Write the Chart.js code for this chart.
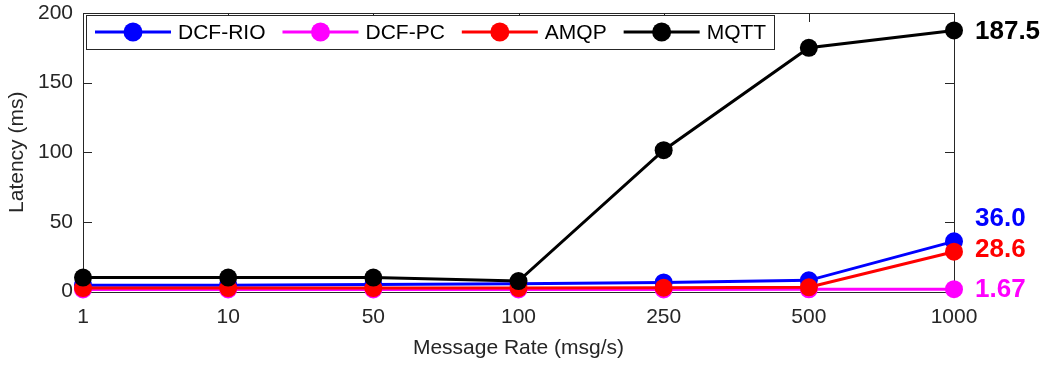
<!DOCTYPE html>
<html lang="en">
<head>
    <meta charset="UTF-8">
    <title>Latency vs Message Rate</title>
    <script src="https://cdn.jsdelivr.net/npm/chart.js"></script>
    <style>
        body { margin: 0; background: #fff; }
    </style>
</head>
<body>
    <canvas id="latencyChart" width="1058" height="365"></canvas>
    <script>
        // data
        const rates = ['1', '10', '50', '100', '250', '500', '1000'];
        const dcfRio = [4.5, 4.5, 5, 5.5, 6.5, 8, 36.0];
        const dcfPc = [1.5, 1.5, 1.5, 1.5, 1.5, 1.6, 1.67];
        const amqp = [2.5, 2.5, 2.5, 2.5, 2.7, 3, 28.6];
        const mqtt = [10, 10, 10, 7.5, 101.5, 175, 187.5];
        const seriesNames = ['DCF-RIO', 'DCF-PC', 'AMQP', 'MQTT'];
        const endLabels = ['36.0', '1.67', '28.6', '187.5'];
        const yTicks = [0, 50, 100, 150, 200];

        const FONT = 'Liberation Sans, Arial, sans-serif';
        const AXIS = '#262626';
        const colors = ['#0000ff', '#ff00ff', '#ff0000', '#000000'];
        const allSeries = [dcfRio, dcfPc, amqp, mqtt];

        // box around the axes with inward ticks (MATLAB style)
        const axesBox = {
            id: 'axesBox',
            beforeDatasetsDraw(chart) {
                const {ctx, chartArea: a, scales: {x, y}} = chart;
                const len = 9;
                ctx.save();
                ctx.strokeStyle = AXIS;
                ctx.lineWidth = 1;
                ctx.beginPath();
                x.ticks.forEach((t, i) => {
                    const px = Math.round(x.getPixelForTick(i)) + 0.5;
                    ctx.moveTo(px, a.bottom); ctx.lineTo(px, a.bottom - len);
                    ctx.moveTo(px, a.top); ctx.lineTo(px, a.top + len);
                });
                y.ticks.forEach((t, i) => {
                    const py = Math.round(y.getPixelForTick(i)) + 0.5;
                    ctx.moveTo(a.left, py); ctx.lineTo(a.left + len, py);
                    ctx.moveTo(a.right, py); ctx.lineTo(a.right - len, py);
                });
                ctx.stroke();
                ctx.strokeRect(Math.round(a.left) + 0.5, Math.round(a.top) + 0.5,
                    Math.round(a.right - a.left), Math.round(a.bottom - a.top));
                ctx.restore();
            }
        };

        // legend inside the axes, top-left, horizontal
        const insideLegend = {
            id: 'insideLegend',
            afterDatasetsDraw(chart) {
                const {ctx, chartArea: a} = chart;
                ctx.save();
                ctx.font = '21px ' + FONT;
                const pad = 9, lineLen = 76, textGap = 7, itemGap = 17;
                let w = pad;
                seriesNames.forEach((n, i) => {
                    w += lineLen + textGap + ctx.measureText(n).width;
                    if (i < seriesNames.length - 1) w += itemGap;
                });
                w += pad - 1;
                const bx = a.left + 3, by = a.top + 2, bh = 34;
                ctx.fillStyle = '#fff';
                ctx.fillRect(bx, by, w, bh);
                ctx.strokeStyle = '#262626';
                ctx.lineWidth = 1;
                ctx.strokeRect(Math.round(bx) + 0.5, Math.round(by) + 0.5, Math.round(w), bh);
                let cx = bx + pad;
                const cy = by + bh / 2;
                seriesNames.forEach((n, i) => {
                    ctx.strokeStyle = colors[i];
                    ctx.lineWidth = 3;
                    ctx.beginPath();
                    ctx.moveTo(cx, cy); ctx.lineTo(cx + lineLen, cy);
                    ctx.stroke();
                    ctx.fillStyle = colors[i];
                    ctx.beginPath();
                    ctx.arc(cx + lineLen / 2, cy, 9.5, 0, Math.PI * 2);
                    ctx.fill();
                    ctx.fillStyle = '#000';
                    ctx.textBaseline = 'middle';
                    ctx.textAlign = 'left';
                    const tx = cx + lineLen + textGap;
                    ctx.fillText(n, tx, cy + 1);
                    cx = tx + ctx.measureText(n).width + itemGap;
                });
                ctx.restore();
            }
        };

        // bold value labels to the right of the last points
        const endValueLabels = {
            id: 'endValueLabels',
            afterDatasetsDraw(chart) {
                const {ctx, chartArea: a, scales: {y}} = chart;
                const shift = [-24, 0, -3, 0];
                ctx.save();
                ctx.font = 'bold 26px ' + FONT;
                ctx.textAlign = 'left';
                ctx.textBaseline = 'middle';
                allSeries.forEach((s, i) => {
                    ctx.fillStyle = colors[i];
                    const py = y.getPixelForValue(s[s.length - 1]) + shift[i];
                    ctx.fillText(endLabels[i], a.right + 21, py + 1);
                });
                ctx.restore();
            }
        };

        const datasets = allSeries.map((s, i) => ({
            label: seriesNames[i],
            data: s,
            borderColor: colors[i],
            backgroundColor: colors[i],
            pointBackgroundColor: colors[i],
            pointBorderColor: colors[i],
            borderWidth: 3,
            pointRadius: 9,
            pointBorderWidth: 0,
            tension: 0,
            clip: false,
            order: seriesNames.length - 1 - i
        }));

        new Chart(document.getElementById('latencyChart'), {
            type: 'line',
            data: { labels: rates, datasets: datasets },
            options: {
                responsive: false,
                animation: false,
                devicePixelRatio: 1,
                layout: { padding: { top: 13, right: 104, left: 0, bottom: 0 } },
                plugins: {
                    legend: { display: false },
                    tooltip: { enabled: false }
                },
                scales: {
                    x: {
                        offset: false,
                        grid: { display: false, drawTicks: false },
                        border: { display: false },
                        ticks: {
                            color: AXIS,
                            font: { family: FONT, size: 21 },
                            padding: 13,
                            maxRotation: 0,
                            autoSkip: false
                        },
                        title: {
                            display: true,
                            text: 'Message Rate (msg/s)',
                            color: AXIS,
                            font: { family: FONT, size: 21 },
                            padding: { top: 0, bottom: 4 }
                        },
                        afterFit(scale) {
                            scale.height = 73.5;
                            scale.paddingLeft = 0;
                            scale.paddingRight = 0;
                        }
                    },
                    y: {
                        min: 0,
                        max: 200,
                        grid: { display: false, drawTicks: false },
                        border: { display: false },
                        afterBuildTicks(scale) {
                            scale.ticks = yTicks.map(v => ({ value: v }));
                        },
                        ticks: {
                            color: AXIS,
                            font: { family: FONT, size: 21 },
                            padding: 10
                        },
                        title: {
                            display: true,
                            text: 'Latency (ms)',
                            color: AXIS,
                            font: { family: FONT, size: 21 },
                            padding: { top: 5, bottom: 0 }
                        },
                        afterFit(scale) {
                            scale.width = 83;
                            scale.paddingTop = 0;
                            scale.paddingBottom = 0;
                        }
                    }
                }
            },
            plugins: [axesBox, insideLegend, endValueLabels]
        });
    </script>
</body>
</html>
